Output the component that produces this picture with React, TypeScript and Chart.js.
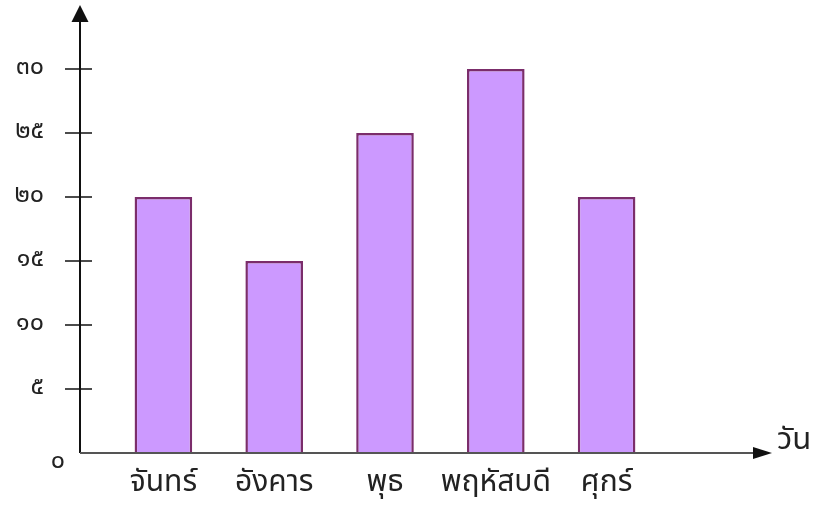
import React, { useEffect, useRef } from "react";
import { Chart, registerables } from "chart.js";

Chart.register(...registerables);

const days = ["จันทร์", "อังคาร", "พุธ", "พฤหัสบดี", "ศุกร์"];
const counts = [20, 15, 25, 30, 20];
const yTicks = [0, 5, 10, 15, 20, 25, 30];
const thaiDigits = ["๐", "๑", "๒", "๓", "๔", "๕", "๖", "๗", "๘", "๙"];
const xAxisTitle = "วัน";

const toThai = (n: number) =>
  String(n)
    .split("")
    .map((c) => (c >= "0" && c <= "9" ? thaiDigits[Number(c)] : c))
    .join("");

const FONT = "'Noto Sans Thai', 'Loma', 'Garuda', 'Norasi', 'Kinnari', 'DejaVu Sans', sans-serif";
const FONT_X = "'Noto Sans Thai', 'Laksaman', 'TH Sarabun New', 'Norasi', 'Kinnari', 'Loma', 'DejaVu Sans', sans-serif";

const axesPlugin = {
  id: "arrowAxes",
  afterDraw(chart: any) {
    const ctx = chart.ctx;
    const y = chart.scales.y;
    const area = chart.chartArea;
    const y0 = y.getPixelForValue(0);
    const yTop = area.top;
    const axX = area.left - 28;
    const xEnd = area.right + 110;
    ctx.save();
    // y axis
    ctx.strokeStyle = "#111";
    ctx.fillStyle = "#111";
    ctx.lineWidth = 2;
    ctx.beginPath();
    ctx.moveTo(axX, y0);
    ctx.lineTo(axX, yTop + 14);
    ctx.stroke();
    ctx.beginPath();
    ctx.moveTo(axX, yTop);
    ctx.lineTo(axX - 8.5, yTop + 17);
    ctx.lineTo(axX + 8.5, yTop + 17);
    ctx.closePath();
    ctx.fill();
    // tick marks
    ctx.lineWidth = 1.5;
    yTicks.forEach((v) => {
      if (v === 0) return;
      const py = y.getPixelForValue(v);
      ctx.beginPath();
      ctx.moveTo(axX - 15, py);
      ctx.lineTo(axX + 12, py);
      ctx.stroke();
    });
    // x axis
    ctx.strokeStyle = "#555";
    ctx.fillStyle = "#111";
    ctx.lineWidth = 2;
    ctx.beginPath();
    ctx.moveTo(axX, y0);
    ctx.lineTo(xEnd - 16, y0);
    ctx.stroke();
    ctx.beginPath();
    ctx.moveTo(xEnd, y0);
    ctx.lineTo(xEnd - 19, y0 - 6);
    ctx.lineTo(xEnd - 19, y0 + 6);
    ctx.closePath();
    ctx.fill();
    // zero label
    ctx.fillStyle = "#222";
    ctx.font = "25px " + FONT;
    ctx.textAlign = "center";
    ctx.textBaseline = "middle";
    ctx.fillText(toThai(0), area.left - 50, y0 + 10);
    // x axis title
    ctx.font = "31px " + FONT_X;
    ctx.textAlign = "left";
    ctx.fillText(xAxisTitle, xEnd + 5, y0 - 10);
    ctx.restore();
  },
};

export default function App() {
  const ref = useRef<HTMLCanvasElement | null>(null);
  useEffect(() => {
    document.body.style.margin = "0";
    const chart = new Chart(ref.current as HTMLCanvasElement, {
      type: "bar",
      data: {
        labels: days,
        datasets: [
          {
            data: counts,
            backgroundColor: "#cc99ff",
            borderColor: "#7b2d6b",
            borderWidth: 2.5,
            barPercentage: 0.52,
            categoryPercentage: 1,
          },
        ],
      },
      options: {
        animation: false,
        responsive: true,
        maintainAspectRatio: false,
        layout: { padding: { top: 5, right: 165, left: 0, bottom: 0 } },
        plugins: { legend: { display: false }, tooltip: { enabled: false } },
        scales: {
          x: {
            offset: true,
            grid: { display: false, drawTicks: false },
            border: { display: false },
            ticks: {
              color: "#222",
              font: { family: FONT_X, size: 30 },
              padding: 14,
              maxRotation: 0,
              autoSkip: false,
            },
            afterFit: (s: any) => {
              s.height = 66;
              s.paddingLeft = 0;
              s.paddingRight = 0;
            },
          },
          y: {
            min: 0,
            max: 35,
            grid: { display: false, drawTicks: false },
            border: { display: false },
            afterBuildTicks: (s: any) => {
              s.ticks = yTicks.map((v) => ({ value: v }));
            },
            ticks: {
              color: "#222",
              font: { family: FONT, size: 25 },
              padding: 64,
              callback: (v: any) => (Number(v) === 0 ? "" : toThai(Number(v))),
            },
            afterFit: (s: any) => {
              s.width = 108;
              s.paddingTop = 0;
              s.paddingBottom = 0;
            },
          },
        },
      },
      plugins: [axesPlugin],
    });
    return () => chart.destroy();
  }, []);
  return (
    <div style={{ position: "fixed", left: 0, top: 0, width: 827, height: 519, background: "#fff" }}>
      <canvas ref={ref} />
    </div>
  );
}
